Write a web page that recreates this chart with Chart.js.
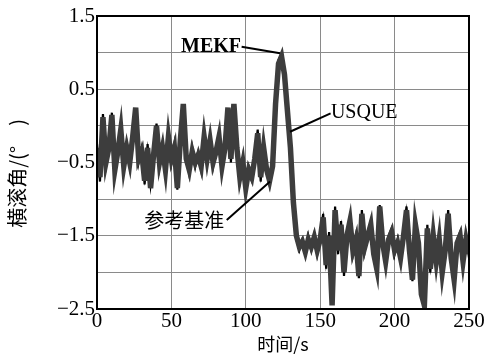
<!DOCTYPE html>
<html>
<head>
<meta charset="utf-8">
<script src="https://cdn.jsdelivr.net/npm/chart.js@4/dist/chart.umd.min.js"></script>
<style>
  html, body { margin: 0; padding: 0; background: #fff; }
  #wrap { width: 486px; height: 355px; }
</style>
</head>
<body>
<div id="wrap"><canvas id="c"></canvas></div>
<script>
// 横滚角估计对比:USQUE / MEKF / 参考基准
const TIME = [0, 2, 4, 6, 8, 10, 12, 14, 16, 18, 20, 22, 24, 26, 28, 30, 32, 34, 36, 38,
  40, 42, 44, 46, 48, 50, 52, 54, 56, 58, 60, 62, 64, 66, 68, 70, 72, 74, 76, 78,
  80, 82, 84, 86, 88, 90, 92, 94, 96, 98, 100, 102, 104, 106, 108, 110, 112, 114, 116, 118,
  120, 122, 124, 126, 128, 130, 132, 134, 136, 138, 140, 142, 144, 146, 148, 150, 152, 154, 156, 158,
  160, 162, 164, 166, 168, 170, 172, 174, 176, 178, 180, 182, 184, 186, 188, 190, 192, 194, 196, 198,
  200, 202, 204, 206, 208, 210, 212, 214, 216, 218, 220, 222, 224, 226, 228, 230, 232, 234, 236, 238,
  240, 242, 244, 246, 248, 250];

const USQUE = [-0.3, -0.7, 0.12, -0.5, -0.3, 0.15, -0.6, -0.35, -0.05, -0.55,
  -0.3, -0.5, -0.15, 0.25, -0.45, -0.35, -0.75, -0.3, -0.85, -0.4,
  0.0, -0.5, -0.3, -0.6, -0.15, -0.45, -0.3, -0.85, -0.2, 0.3,
  -0.45, -0.6, -0.35, -0.5, -0.4, -0.55, -0.15, -0.45, -0.2, -0.5,
  -0.35, -0.15, -0.55, -0.3, 0.25, -0.45, 0.3, -0.3, -0.7, -0.5,
  -0.85, -0.6, -0.7, -0.45, -0.1, -0.7, -0.3, -0.6, -0.75, -0.55,
  0.3, 0.85, 0.95, 0.7, 0.2, -0.3, -1.05, -1.5, -1.65, -1.58,
  -1.72, -1.55, -1.65, -1.52, -1.7, -1.55, -1.25, -1.9, -1.5, -2.45,
  -1.15, -1.7, -1.35, -2.0, -1.5, -1.3, -1.7, -1.55, -2.05, -1.2,
  -1.65, -1.5, -1.35, -1.75, -1.95, -1.1, -1.6, -1.85, -1.55, -1.45,
  -1.7, -1.6, -1.8, -1.5, -1.15, -1.7, -2.1, -1.35, -1.6, -2.3,
  -2.45, -1.4, -1.95, -1.5, -1.85, -1.55, -2.0, -1.7, -1.2, -1.8,
  -2.1, -1.6, -1.5, -1.85, -1.55, -1.75];

const MEKF = [-0.25, -0.76, 0.05, -0.55, -0.25, 0.1, -0.66, -0.3, -0.1, -0.6,
  -0.25, -0.55, -0.2, 0.2, -0.4, -0.4, -0.7, -0.35, -0.8, -0.45,
  -0.05, -0.55, -0.25, -0.65, -0.2, -0.4, -0.35, -0.8, -0.25, 0.25,
  -0.5, -0.55, -0.4, -0.45, -0.45, -0.5, -0.2, -0.4, -0.25, -0.45,
  -0.4, -0.2, -0.5, -0.35, 0.2, -0.5, 0.25, -0.35, -0.65, -0.55,
  -0.8, -0.65, -0.75, -0.5, -0.15, -0.65, -0.35, -0.65, -0.72, -0.6,
  0.25, 0.9, 0.98, 0.65, 0.15, -0.35, -1.1, -1.55, -1.7, -1.55,
  -1.68, -1.6, -1.6, -1.57, -1.65, -1.6, -1.3, -1.85, -1.55, -2.35,
  -1.2, -1.65, -1.4, -1.95, -1.55, -1.35, -1.65, -1.6, -2.0, -1.25,
  -1.6, -1.55, -1.4, -1.7, -1.9, -1.15, -1.65, -1.8, -1.6, -1.5,
  -1.65, -1.65, -1.75, -1.55, -1.2, -1.65, -2.05, -1.4, -1.65, -2.25,
  -2.4, -1.45, -1.9, -1.55, -1.8, -1.6, -1.95, -1.65, -1.25, -1.75,
  -2.05, -1.65, -1.55, -1.8, -1.6, -1.7];

const REF = [-0.36, -0.64, 0.16, -0.44, -0.36, 0.18, -0.55, -0.42, 0.0, -0.5,
  -0.36, -0.45, -0.1, 0.22, -0.5, -0.3, -0.8, -0.25, -0.84, -0.35,
  0.03, -0.45, -0.36, -0.55, -0.1, -0.5, -0.25, -0.87, -0.15, 0.28,
  -0.4, -0.66, -0.3, -0.56, -0.35, -0.6, -0.1, -0.5, -0.15, -0.56,
  -0.3, -0.1, -0.6, -0.25, 0.22, -0.4, 0.28, -0.25, -0.76, -0.45,
  -0.87, -0.55, -0.66, -0.4, -0.05, -0.76, -0.25, -0.55, -0.8, -0.5,
  0.35, 0.8, 0.92, 0.75, 0.25, -0.25, -1.0, -1.45, -1.62, -1.62,
  -1.76, -1.5, -1.7, -1.48, -1.75, -1.5, -1.2, -1.95, -1.45, -2.4,
  -1.1, -1.75, -1.3, -2.05, -1.45, -1.25, -1.75, -1.5, -2.08, -1.15,
  -1.7, -1.45, -1.3, -1.8, -2.0, -1.08, -1.55, -1.9, -1.5, -1.4,
  -1.75, -1.55, -1.85, -1.45, -1.1, -1.75, -2.12, -1.3, -1.55, -2.35,
  -2.47, -1.35, -2.0, -1.45, -1.9, -1.5, -2.05, -1.75, -1.15, -1.85,
  -2.15, -1.55, -1.45, -1.9, -1.5, -1.8];

const X_TICKS = [0, 50, 100, 150, 200, 250];
const Y_LABELS = [1.5, 0.5, -0.5, -1.5, -2.5];
const Y_TITLE = "横滚角/(°\u3000)";

// 标注:文字锚点 + 引线(数据坐标)
const NOTES = [
  { text: "MEKF", font: "bold 20px 'Liberation Serif'", align: "right", at: [96.8, 1.08], from: [97.2, 1.08], to: [123, 0.99] },
  { text: "USQUE", font: "20px 'Liberation Serif'", align: "left", at: [157.2, 0.183], from: [157, 0.17], to: [129.7, -0.08] },
  { text: "参考基准", font: "20px 'Noto Sans CJK SC'", align: "right", at: [85.6, -1.285], from: [87.2, -1.285], to: [116.3, -0.76] },
];

const pts = (ys) => ys.map((y, i) => ({ x: TIME[i], y }));
const fmt = (v) => (v < 0 ? "\u2212" + Math.abs(v) : String(v));

const notesPlugin = {
  id: "notes",
  afterDatasetsDraw(chart) {
    const { ctx, chartArea: a, scales: { x, y } } = chart;
    ctx.save();
    // 边框
    ctx.strokeStyle = "#000"; ctx.lineWidth = 2;
    ctx.strokeRect(a.left, a.top, a.right - a.left, a.bottom - a.top);
    for (const n of NOTES) {
      ctx.lineWidth = 2;
      ctx.beginPath();
      ctx.moveTo(x.getPixelForValue(n.from[0]), y.getPixelForValue(n.from[1]));
      ctx.lineTo(x.getPixelForValue(n.to[0]), y.getPixelForValue(n.to[1]));
      ctx.stroke();
      ctx.font = n.font; ctx.fillStyle = "#000";
      ctx.textAlign = n.align; ctx.textBaseline = "middle";
      ctx.fillText(n.text, x.getPixelForValue(n.at[0]), y.getPixelForValue(n.at[1]));
    }
    // 纵轴标题(略低于绘图区中线)
    ctx.translate(17, y.getPixelForValue(-0.65));
    ctx.rotate(-Math.PI / 2);
    ctx.font = "20px 'Noto Sans CJK SC'";
    ctx.textAlign = "center"; ctx.textBaseline = "middle";
    ctx.fillText(Y_TITLE, 0, 0);
    ctx.restore();
  },
};

new Chart(document.getElementById("c"), {
  type: "line",
  data: {
    datasets: [
      { label: "USQUE", data: pts(USQUE), borderColor: "#3d3d3d", borderWidth: 5.5 },
      { label: "MEKF", data: pts(MEKF), borderColor: "#000", borderWidth: 2.2 },
      { label: "参考基准", data: pts(REF), borderColor: "#000", borderWidth: 2.2 },
    ],
  },
  options: {
    responsive: true, maintainAspectRatio: false, animation: false,
    elements: { point: { radius: 0 }, line: { tension: 0, borderJoinStyle: "miter" } },
    layout: { padding: { top: 16, right: 17, left: 0, bottom: 0 } },
    plugins: { legend: { display: false }, tooltip: { enabled: false } },
    scales: {
      x: {
        type: "linear", min: 0, max: 250,
        afterBuildTicks: (s) => { s.ticks = X_TICKS.map((v) => ({ value: v })); },
        afterFit: (s) => { s.height = 46; },
        grid: { color: "#8a8a8a", lineWidth: 1, drawTicks: false },
        border: { display: false },
        ticks: { padding: 0, color: "#000", font: { family: "'Liberation Serif'", size: 21 }, maxRotation: 0 },
        title: { display: true, text: "时间/s", color: "#000", padding: 0,
                 font: { family: "'Noto Sans CJK SC'", size: 18 } },
      },
      y: {
        min: -2.5, max: 1.5,
        ticks: {
          stepSize: 0.5, padding: 2, color: "#000",
          font: { family: "'Liberation Serif'", size: 21 },
          callback: (v) => (Y_LABELS.includes(v) ? fmt(v) : ""),
        },
        afterFit: (s) => { s.width = 97; },
        grid: { color: "#8a8a8a", lineWidth: 1, drawTicks: false },
        border: { display: false },
      },
    },
  },
  plugins: [notesPlugin],
});
</script>
</body>
</html>
